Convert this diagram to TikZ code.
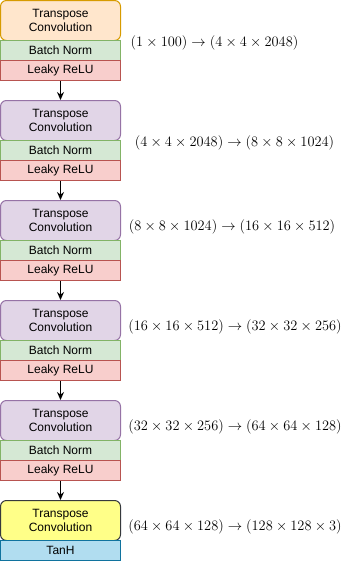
\documentclass[tikz,border=0pt]{standalone}
\usepackage{fontspec}
\newfontfamily\boxfont{Liberation Sans}
\usetikzlibrary{arrows.meta}
\definecolor{orF}{HTML}{FFE6CC}\definecolor{orD}{HTML}{D79B00}
\definecolor{grF}{HTML}{D5E8D4}\definecolor{grD}{HTML}{82B366}
\definecolor{rdF}{HTML}{F8CECC}\definecolor{rdD}{HTML}{B85450}
\definecolor{puF}{HTML}{E1D5E7}\definecolor{puD}{HTML}{9673A6}
\definecolor{yeF}{HTML}{FFFF88}\definecolor{yeD}{HTML}{36393D}
\definecolor{blF}{HTML}{B1DDF0}\definecolor{blD}{HTML}{10739E}
\begin{document}
\begin{tikzpicture}[x=1pt,y=-1pt,
  blk/.style={draw, line width=1pt, minimum width=120pt, inner sep=0pt,
    font=\boxfont\fontsize{12}{14}\selectfont, align=center},
  conv/.style={blk, rounded corners=6pt, minimum height=40pt},
  thinbox/.style={blk, minimum height=20pt},
  bn/.style={thinbox, fill=grF, draw=grD},
  lr/.style={thinbox, fill=rdF, draw=rdD},
  lbl/.style={font=\fontsize{14}{17}\selectfont, inner sep=0pt},
  arr/.style={-{Stealth[length=8pt,width=7pt]}, line width=1pt}]
\useasboundingbox (0,0) rectangle (342,571);

\node[conv, fill=orF, draw=orD] (c0) at (60.5,20.5) {Transpose\\Convolution};
\node[bn] (b0) at (60.5,50.5) {Batch Norm};
\node[lr] (l0) at (60.5,70.5) {Leaky ReLU};

\node[conv, fill=puF, draw=puD] (c1) at (60.5,120.5) {Transpose\\Convolution};
\node[bn] (b1) at (60.5,150.5) {Batch Norm};
\node[lr] (l1) at (60.5,170.5) {Leaky ReLU};

\node[conv, fill=puF, draw=puD] (c2) at (60.5,220.5) {Transpose\\Convolution};
\node[bn] (b2) at (60.5,250.5) {Batch Norm};
\node[lr] (l2) at (60.5,270.5) {Leaky ReLU};

\node[conv, fill=puF, draw=puD] (c3) at (60.5,320.5) {Transpose\\Convolution};
\node[bn] (b3) at (60.5,350.5) {Batch Norm};
\node[lr] (l3) at (60.5,370.5) {Leaky ReLU};

\node[conv, fill=puF, draw=puD] (c4) at (60.5,420.5) {Transpose\\Convolution};
\node[bn] (b4) at (60.5,450.5) {Batch Norm};
\node[lr] (l4) at (60.5,470.5) {Leaky ReLU};

\node[conv, fill=yeF, draw=yeD] (c5) at (60.5,520.5) {Transpose\\Convolution};
\node[thinbox, fill=blF, draw=blD] (t5) at (60.5,550.5) {TanH};

\draw[arr] (l0) -- (c1);
\draw[arr] (l1) -- (c2);
\draw[arr] (l2) -- (c3);
\draw[arr] (l3) -- (c4);
\draw[arr] (l4) -- (c5);

\node[lbl] (s0) at (214.5,43) {$(1\times 100)\rightarrow(4\times 4\times 2048)$};
\node[lbl] (s1) at (234.5,143) {$(4\times 4\times 2048)\rightarrow(8\times 8\times 1024)$};
\node[lbl] (s2) at (232,227) {$(8\times 8\times 1024)\rightarrow(16\times 16\times 512)$};
\node[lbl] (s3) at (235,327) {$(16\times 16\times 512)\rightarrow(32\times 32\times 256)$};
\node[lbl] (s4) at (235,427) {$(32\times 32\times 256)\rightarrow(64\times 64\times 128)$};
\node[lbl] (s5) at (235,527) {$(64\times 64\times 128)\rightarrow(128\times 128\times 3)$};
\end{tikzpicture}
\end{document}
